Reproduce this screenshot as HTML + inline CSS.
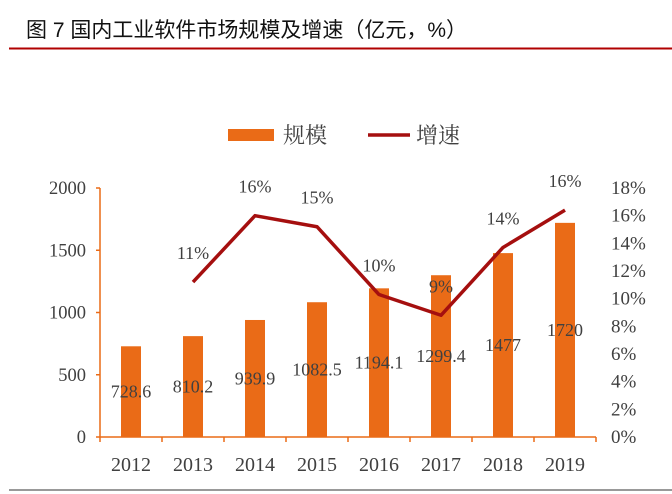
<!DOCTYPE html>
<html><head><meta charset="utf-8"><style>
body{margin:0;background:#fff;width:672px;height:494px;overflow:hidden}
svg{display:block}
text{font-family:"Liberation Serif","Noto Serif CJK SC",serif;fill:#404040}
</style></head><body>
<svg width="672" height="494">
<text x="26" y="37" style="font-family:'Liberation Sans','Noto Sans CJK SC',sans-serif;font-size:21px;fill:#111">图  7 国内工业软件市场规模及增速（亿元，%）</text>
<line x1="9" y1="48.5" x2="672" y2="48.5" stroke="#b00000" stroke-width="2"/>
<line x1="9" y1="490" x2="672" y2="490" stroke="#333" stroke-width="1"/>
<g>
<rect x="228" y="129" width="46" height="12" fill="#ea6b17"/>
<text x="283" y="143" font-size="22">规模</text>
<line x1="368" y1="135" x2="410" y2="135" stroke="#a50f0f" stroke-width="3.5"/>
<text x="416" y="143" font-size="22">增速</text>
</g>
<g id="plot"></g>
</svg>
<script>
const years=["2012","2013","2014","2015","2016","2017","2018","2019"];
const sizes=[728.6,810.2,939.9,1082.5,1194.1,1299.4,1477,1720];
const sizeLabels=["728.6","810.2","939.9","1082.5","1194.1","1299.4","1477","1720"];
const growth=[null,11.2,16.0,15.2,10.3,8.8,13.7,16.4];
const growthLabels=["","11%","16%","15%","10%","9%","14%","16%"];
const leftTicks=[0,500,1000,1500,2000];
const rightTicks=[0,2,4,6,8,10,12,14,16,18];
const NS="http://www.w3.org/2000/svg",g=document.getElementById('plot');
const X0=100,STEP=62,Y0=437,Y1=188;
const xc=i=>X0+STEP*(i+0.5);
const yL=v=>Y0-(v/2000)*(Y0-Y1);
const yR=v=>Y0-(v/18)*(Y0-Y1);
function mk(t,a,txt){const e=document.createElementNS(NS,t);for(const k in a)e.setAttribute(k,a[k]);if(txt!=null)e.textContent=txt;g.appendChild(e);return e;}
let e;
e=mk('line',{x1:X0,y1:Y1,x2:X0,y2:Y0,stroke:'#ea6b17','stroke-width':1.5});


e=mk('line',{x1:X0,y1:Y0,x2:X0+STEP*8,y2:Y0,stroke:'#ea6b17','stroke-width':1.5});


leftTicks.forEach(v=>{
 mk('line',{x1:X0-4,y1:yL(v),x2:X0,y2:yL(v),stroke:'#ea6b17','stroke-width':1.5});
 e=mk('text',{x:86,y:yL(v)+6,'font-size':18.5,'text-anchor':'end'},String(v));
 
 
});
rightTicks.forEach(v=>{
 e=mk('text',{x:611,y:yR(v)+6,'font-size':19},v+'%');
 
 
});
for(let i=0;i<=8;i++){mk('line',{x1:X0+STEP*i,y1:Y0,x2:X0+STEP*i,y2:Y0+5,stroke:'#ea6b17','stroke-width':1.5});}
years.forEach((y,i)=>{
 e=mk('rect',{x:xc(i)-10,y:yL(sizes[i]),width:20,height:Y0-yL(sizes[i]),fill:'#ea6b17'});
 
 
 e=mk('text',{x:xc(i),y:(yL(sizes[i])+Y0)/2+6,'font-size':18,'text-anchor':'middle'},sizeLabels[i]);
 
 
 e=mk('text',{x:xc(i),y:471,'font-size':20,'text-anchor':'middle'},y);
 
 
});
const pts=[];growth.forEach((v,i)=>{if(v!=null)pts.push(xc(i)+','+yR(v));});
e=mk('polyline',{points:pts.join(' '),fill:'none',stroke:'#a50f0f','stroke-width':3.5,'stroke-linejoin':'round'});


growth.forEach((v,i)=>{if(v==null)return;
 e=mk('text',{x:xc(i),y:yR(v)-23,'font-size':18,'text-anchor':'middle'},growthLabels[i]);
 
 
});
</script>
</body></html>
